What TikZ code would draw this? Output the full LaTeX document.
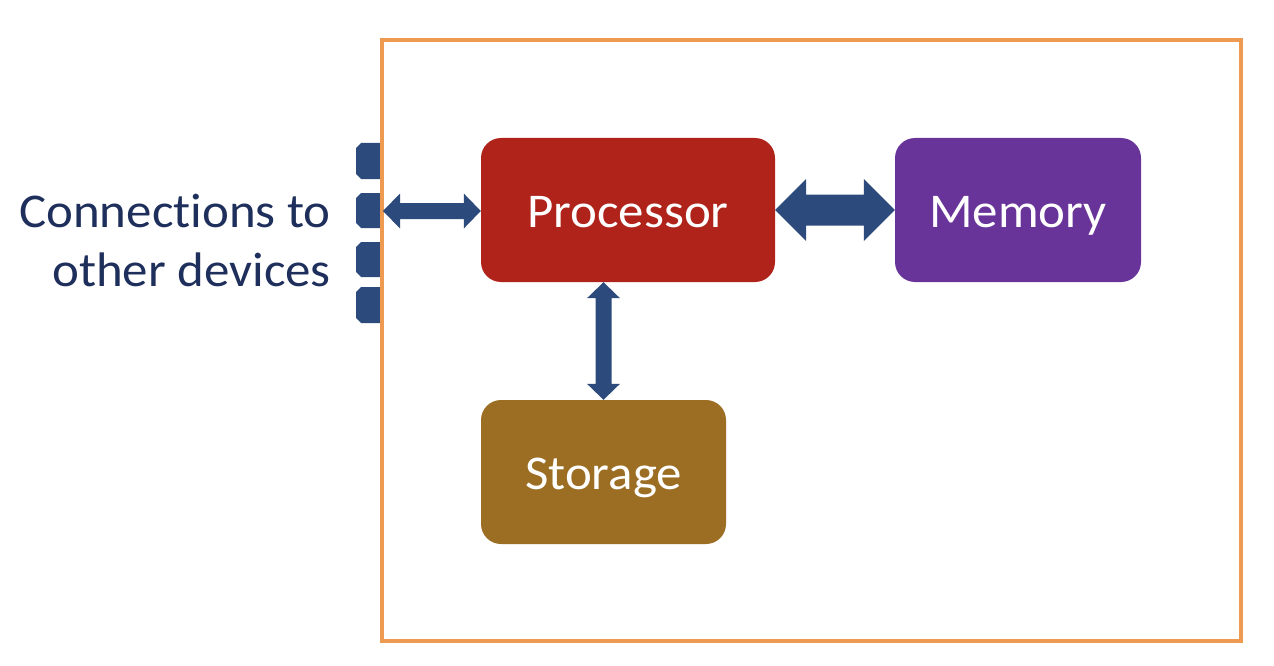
\documentclass[tikz,border=0pt]{standalone}
\usepackage{fontspec}
\setmainfont{Carlito}[Ligatures=NoCommon, FakeStretch=1.05]
\usetikzlibrary{calc}
\definecolor{framecol}{HTML}{EE9A50}
\definecolor{navy}{HTML}{2C4A7B}
\definecolor{textnavy}{HTML}{1F2F5C}
\definecolor{proccol}{HTML}{AF231A}
\definecolor{memcol}{HTML}{68349A}
\definecolor{storcol}{HTML}{9B6E24}
\newcommand\hdarrow[5]{%
  \fill[navy] let \p1=(#1), \p2=(#2) in
    (\x1,\y1) -- (\x1+#3,\y1+#4) -- (\x1+#3,\y1+#5) -- (\x2-#3,\y1+#5) -- (\x2-#3,\y1+#4)
    -- (\x2,\y1) -- (\x2-#3,\y1-#4) -- (\x2-#3,\y1-#5) -- (\x1+#3,\y1-#5) -- (\x1+#3,\y1-#4) -- cycle;}
\newcommand\vdarrow[5]{%
  \fill[navy] let \p1=(#1), \p2=(#2) in
    (\x2,\y1) -- (\x2+#4,\y1-#3) -- (\x2+#5,\y1-#3) -- (\x2+#5,\y2+#3) -- (\x2+#4,\y2+#3)
    -- (\x2,\y2) -- (\x2-#4,\y2+#3) -- (\x2-#5,\y2+#3) -- (\x2-#5,\y1-#3) -- (\x2-#4,\y1-#3) -- cycle;}
\tikzset{
  box/.style={rounded corners=20pt, inner sep=0pt, text=white,
    text height=34pt, text depth=0pt,
    font=\fontsize{48.5}{58}\selectfont},
  tab/.style={fill=navy},
}
\begin{document}
\begin{tikzpicture}[x=1pt,y=-1pt]
\useasboundingbox (0,0) rectangle (1274,666);
% tabs
\foreach \t/\b in {143/179,193/228,242/277,287/323}{
  \fill[tab] (382,\t) -- (361,\t) -- (356,\t+5) -- (356,\b-5) -- (361,\b) -- (382,\b) -- cycle;
}
% frame
\draw[framecol, line width=4pt] (382,40) rectangle (1241,641);
\coordinate (port) at (383,211);
% boxes
\node[box, fill=proccol, minimum width=294pt, minimum height=144pt] (proc) at (628,210) {Processor};
\node[box, fill=memcol, minimum width=246pt, minimum height=144pt] (mem) at (1018,210) {Memory};
\node[box, fill=storcol, minimum width=245pt, minimum height=144pt] (stor) at (603.5,472) {Storage};
% label
\node[anchor=east, align=right, text=textnavy, inner sep=0pt,
  font=\fontsize{48.5}{59}\selectfont] (conn) at (331,240) {Connections to\\other devices};
% arrows
\hdarrow{port}{proc.west}{17}{17.5}{8}
\hdarrow{proc.east}{mem.west}{31}{31}{15.5}
\vdarrow{proc.south}{stor.north}{16}{16.5}{8}
\end{tikzpicture}
\end{document}
